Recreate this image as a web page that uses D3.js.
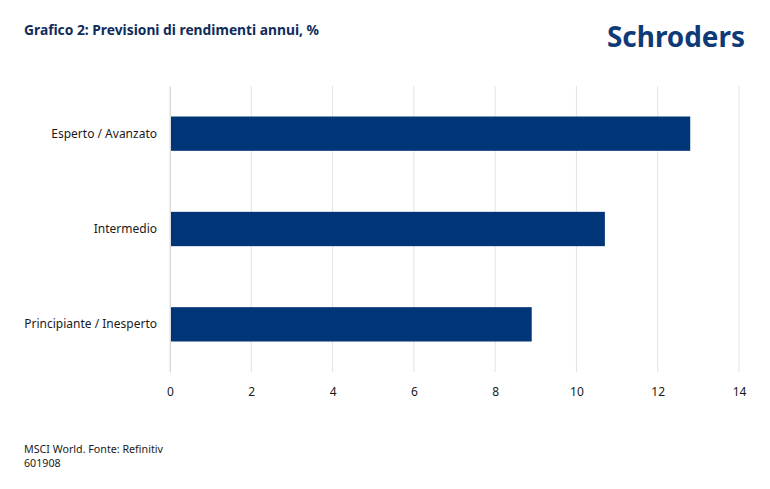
<!DOCTYPE html>
<html>
<head>
<meta charset="utf-8">
<script src="https://cdn.jsdelivr.net/npm/d3@7"></script>
<style>
  body { margin: 0; background: #fff; }
  text { font-family: "Noto Sans", "Open Sans", sans-serif; }
</style>
</head>
<body>
<div id="chart"></div>
<script>
// chart data
const categories = ["Esperto / Avanzato", "Intermedio", "Principiante / Inesperto"];
const values = [12.8, 10.7, 8.9];
const xTicks = [0, 2, 4, 6, 8, 10, 12, 14];

const width = 770,
      height = 489,
      margin = {top: 86, right: 31, bottom: 117, left: 170};

const innerWidth = width - margin.left - margin.right,
      innerHeight = height - margin.top - margin.bottom;

const svg = d3.select("#chart")
              .append("svg")
                .attr("width", width)
                .attr("height", height);

const g = svg.append("g")
             .attr("transform", "translate(" + margin.left + "," + margin.top + ")");

// scales
const xScale = d3.scaleLinear()
                 .domain([0, 14])
                 .range([0, innerWidth]);

const yScale = d3.scaleBand()
                 .domain(categories)
                 .range([0, innerHeight])
                 .paddingInner(0.64)
                 .paddingOuter(0.32);

// vertical gridlines
g.selectAll(".grid")
  .data(xTicks)
  .enter()
  .append("line")
    .attr("class", "grid")
    .attr("x1", d => xScale(d))
    .attr("x2", d => xScale(d))
    .attr("y1", 0)
    .attr("y2", innerHeight)
    .attr("stroke", "#e3e3e3")
    .attr("stroke-width", 1);

// bars
g.selectAll(".bar")
  .data(categories)
  .enter()
  .append("rect")
    .attr("class", "bar")
    .attr("x", xScale(0))
    .attr("y", d => yScale(d))
    .attr("width", (d, i) => xScale(values[i]) - xScale(0))
    .attr("height", yScale.bandwidth())
    .attr("fill", "#003578");

// x axis (labels only)
const xAxis = g.append("g")
  .attr("transform", "translate(0," + innerHeight + ")")
  .call(d3.axisBottom(xScale).tickValues(xTicks).tickSize(0).tickPadding(15));
xAxis.select(".domain").remove();
xAxis.selectAll("text")
  .attr("font-size", 12)
  .attr("fill", "#1a1a1a")
  .style("font-family", "'Noto Sans', sans-serif");

// y axis
const yAxis = g.append("g")
  .call(d3.axisLeft(yScale).tickSize(0).tickPadding(13));
yAxis.select(".domain")
  .attr("stroke", "#d9d9d9");
yAxis.selectAll("text")
  .attr("font-size", 12)
  .attr("fill", "#1a1a1a")
  .style("font-family", "'Noto Sans', sans-serif");

// title
svg.append("text")
  .attr("x", 24)
  .attr("y", 35)
  .attr("font-size", 13.8)
  .attr("font-weight", "bold")
  .attr("fill", "#0f2c5a")
  .text("Grafico 2: Previsioni di rendimenti annui, %");

// logo
svg.append("text")
  .attr("x", 607)
  .attr("y", 47)
  .attr("font-size", 28)
  .attr("font-weight", "bold")
  .attr("fill", "#0f3a78")
  .attr("textLength", 138)
  .attr("lengthAdjust", "spacingAndGlyphs")
  .text("Schroders");

// footer
svg.append("text")
  .attr("x", 24)
  .attr("y", 453)
  .attr("font-size", 10.7)
  .attr("fill", "#1a1a1a")
  .text("MSCI World. Fonte: Refinitiv");
svg.append("text")
  .attr("x", 24)
  .attr("y", 467)
  .attr("font-size", 10.7)
  .attr("fill", "#1a1a1a")
  .text("601908");
</script>
</body>
</html>
